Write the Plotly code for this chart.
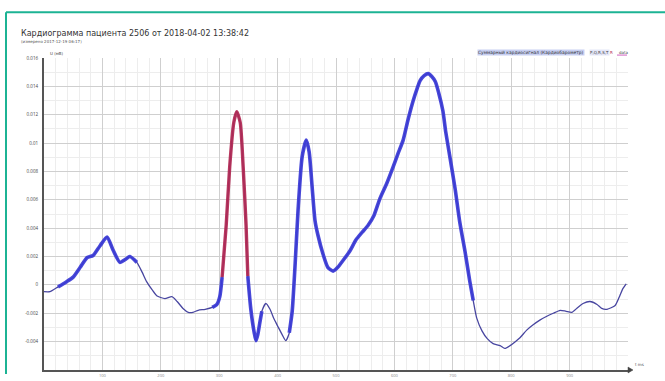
import plotly.graph_objects as go

# Cardiogram samples: time (ms) and signal amplitude
t_ms = [0, 10, 24, 38, 50, 62, 74, 84, 96, 108, 118, 130, 139, 147, 159, 168, 176, 185,
        193, 207, 219, 228, 238, 247, 255, 264, 276, 288, 296, 301, 305, 312, 318, 325,
        330, 336, 341, 346, 349, 354, 360, 363, 366, 370, 373, 380, 387, 394, 401, 408,
        414, 420, 425, 430, 435, 442, 449, 454, 459, 464, 469, 478, 486, 495, 503, 512,
        524, 534, 545, 555, 565, 575, 587, 598, 606, 615, 623, 632, 639, 644, 651, 658,
        664, 670, 676, 683, 688, 695, 704, 712, 721, 729, 735, 741, 750, 759, 769, 781,
        789, 798, 807, 815, 827, 837, 849, 861, 872, 884, 894, 904, 914, 923, 935, 947,
        955, 964, 978, 986, 991, 997, 1000]
u_signal = [-0.00048, -0.00048, -0.00014, 0.00021, 0.00055, 0.00124, 0.00193, 0.00207,
            0.00276, 0.00338, 0.00248, 0.00159, 0.00179, 0.00200, 0.00159, 0.00090,
            0.00021, -0.00034, -0.00076, -0.00097, -0.00083, -0.00117, -0.00166,
            -0.00193, -0.00193, -0.00179, -0.00172, -0.00159, -0.00138, -0.00083,
            0.00055, 0.00421, 0.00834, 0.01145, 0.01221, 0.01145, 0.00834, 0.00421,
            0.00062, -0.00166, -0.00338, -0.00393, -0.00352, -0.00255, -0.00186,
            -0.00131, -0.00172, -0.00241, -0.00297, -0.00352, -0.00393, -0.00338,
            -0.00186, 0.00145, 0.00524, 0.00903, 0.01021, 0.00938, 0.00697, 0.00455,
            0.00352, 0.00214, 0.00124, 0.00097, 0.00124, 0.00172, 0.00241, 0.00317,
            0.00372, 0.00421, 0.00490, 0.00607, 0.00717, 0.00834, 0.00924, 0.01021,
            0.01159, 0.01297, 0.01386, 0.01441, 0.01476, 0.01490, 0.01469, 0.01434,
            0.01352, 0.01228, 0.01076, 0.00903, 0.00676, 0.00441, 0.00234, 0.00028,
            -0.00110, -0.00234, -0.00324, -0.00379, -0.00414, -0.00428, -0.00448,
            -0.00428, -0.00400, -0.00372, -0.00317, -0.00283, -0.00248, -0.00221,
            -0.00200, -0.00179, -0.00186, -0.00193, -0.00159, -0.00131, -0.00117,
            -0.00138, -0.00166, -0.00172, -0.00145, -0.00076, -0.00028, 0.00007]

# Marked waves (time windows, ms)
wave_windows = [(24, 159), (288, 305), (349, 373), (420, 735)]
r_window = (305, 349)

y_tick_vals = [-0.004, -0.002, 0, 0.002, 0.004, 0.006, 0.008, 0.01, 0.012, 0.014, 0.016]
y_tick_text = ["-0.004", "-0.002", "0", "0.002", "0.004", "0.006", "0.008", "0.01",
               "0.012", "0.014", "0.016"]
x_tick_vals = [100, 200, 300, 400, 500, 600, 700, 800, 900]

THIN = "rgb(72,70,160)"
THICK = "rgb(58,58,214)"
RED = "rgb(178,40,82)"


def segment(lo, hi):
    xs, ys = [], []
    for t, u in zip(t_ms, u_signal):
        if lo <= t <= hi:
            xs.append(t)
            ys.append(u)
    return xs, ys


fig = go.Figure()
fig.add_trace(go.Scatter(x=t_ms, y=u_signal, mode="lines",
                         line=dict(color=THIN, width=1.3, shape="spline", smoothing=0.6),
                         hoverinfo="skip"))
for lo, hi in wave_windows:
    xs, ys = segment(lo, hi)
    fig.add_trace(go.Scatter(x=xs, y=ys, mode="lines",
                             line=dict(color=THICK, width=3.6, shape="spline", smoothing=0.6),
                             opacity=0.92, hoverinfo="skip"))
xs, ys = segment(*r_window)
fig.add_trace(go.Scatter(x=xs, y=ys, mode="lines",
                         line=dict(color=RED, width=3.4, shape="spline", smoothing=0.6),
                         opacity=0.92, hoverinfo="skip"))


def px_x(px):
    return (px - 44) / 584.0


def px_y(py):
    return (378 - py) / 320.0


def label(text, x, y, size, color="#444", **extra):
    return dict(text=text, x=px_x(x), y=px_y(y), xref="paper", yref="paper",
                xanchor="left", yanchor="middle", showarrow=False,
                font=dict(size=size, color=color, family="DejaVu Sans"), **extra)


annotations = [
    label("Кардиограмма пациента 2506 от 2018-04-02 13:38:42", 19, 33, 8, "#333"),
    label("(измерено 2017-12-19 06:17)", 19, 41, 4, "#555"),
    label("U (мВ)", 48, 53, 4),
    label("t ms", 633, 372, 4),
    label("Суммарный кардиосигнал (Кардиобарометр)", 477, 52, 4.4, "#333",
          bgcolor="#c7cff2", borderpad=0),
    label("P,Q,R,S,T", 589, 52, 4, bgcolor="#e4e7f8", borderpad=0),
    label("R", 608, 52, 4, "#b02850"),
    label("data", 617, 52, 4),
]

TEAL = "#1cb394"
shapes = [
    dict(type="line", xref="paper", yref="paper", x0=px_x(6), y0=px_y(11),
         x1=px_x(666), y1=px_y(11), line=dict(color=TEAL, width=2)),
    dict(type="line", xref="paper", yref="paper", x0=px_x(6), y0=px_y(11),
         x1=px_x(6), y1=px_y(382), line=dict(color=TEAL, width=2)),
    dict(type="line", xref="paper", yref="paper", x0=px_x(617), y0=px_y(55),
         x1=px_x(627), y1=px_y(55), line=dict(color="#d060c0", width=1)),
    dict(type="path", xref="paper", yref="paper",
         path=f"M {px_x(628)},{px_y(375)} L {px_x(633)},{px_y(378)} L {px_x(628)},{px_y(381)} Z",
         fillcolor="#444", line=dict(color="#444", width=0.5)),
]

fig.update_layout(
    width=665, height=381,
    margin=dict(l=44, r=37, t=58, b=3),
    paper_bgcolor="white", plot_bgcolor="white",
    showlegend=False,
    annotations=annotations,
    shapes=shapes,
    xaxis=dict(range=[0, 1000], tickvals=x_tick_vals, ticktext=[str(v) for v in x_tick_vals],
               showgrid=True, gridcolor="#cfcfcf", gridwidth=1,
               minor=dict(dtick=20, tick0=0, showgrid=True, gridcolor="#ededed", gridwidth=1),
               showline=True, linecolor="#555", linewidth=2, zeroline=False,
               tickfont=dict(size=4, color="#888"), ticks=""),
    yaxis=dict(range=[-0.006, 0.016], tickvals=y_tick_vals, ticktext=y_tick_text,
               showgrid=True, gridcolor="#cfcfcf", gridwidth=1,
               minor=dict(dtick=0.001, tick0=0, showgrid=True, gridcolor="#ededed", gridwidth=1),
               showline=True, linecolor="#555", linewidth=2, zeroline=False,
               tickfont=dict(size=4.5, color="#444"), ticks="", ticklabelstandoff=3),
)

fig.write_html("out.html")
